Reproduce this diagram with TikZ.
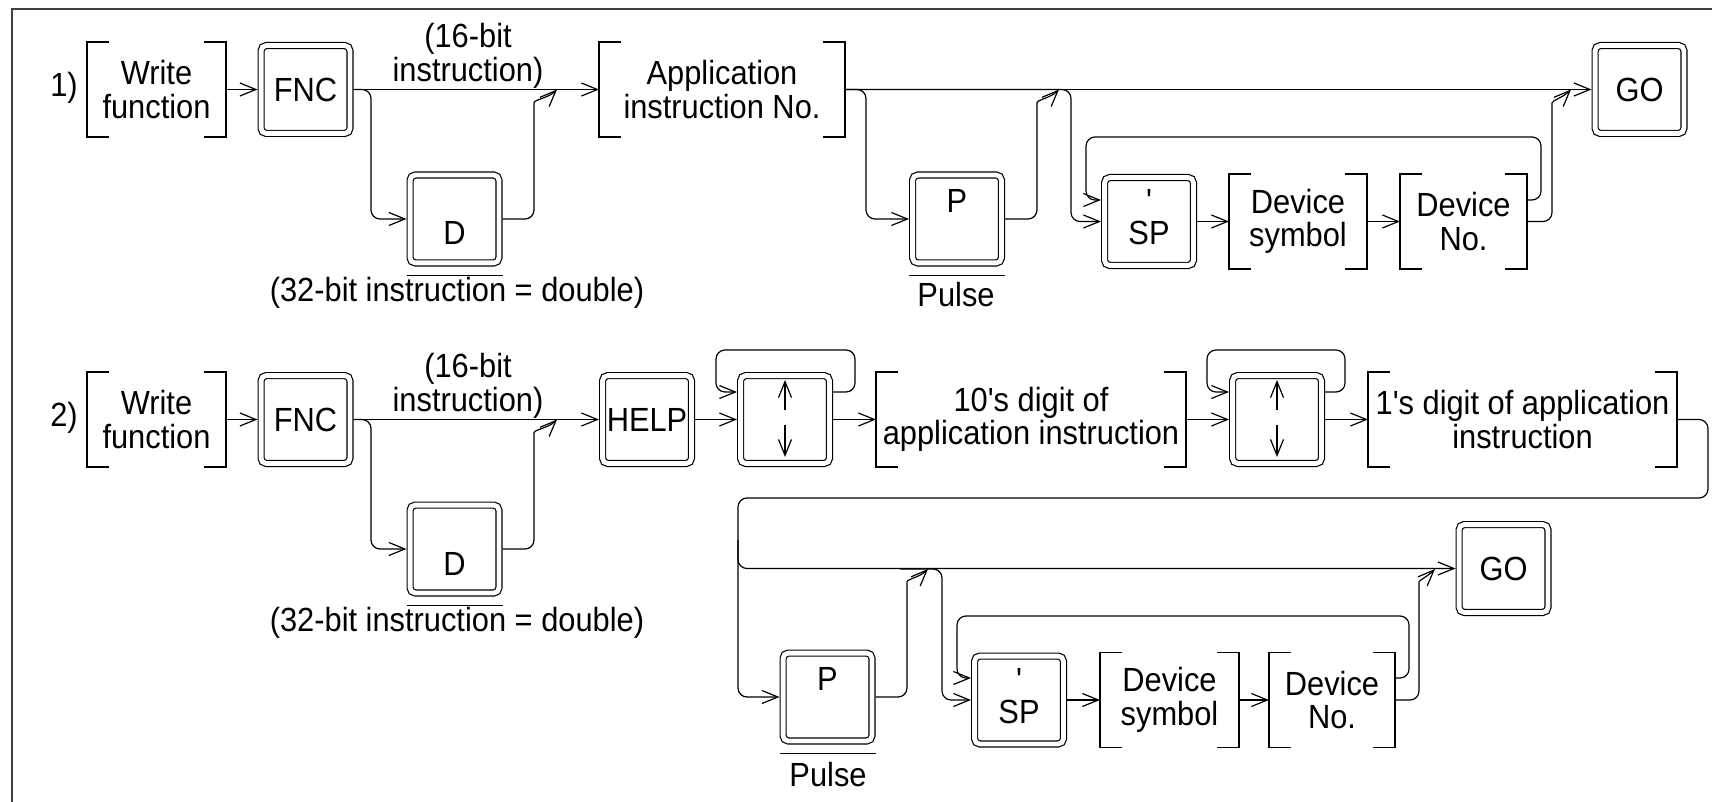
\documentclass[tikz,border=0pt]{standalone}
\usepackage{fontspec}
\setmainfont{Liberation Sans}[Ligatures=TeXOff, FakeStretch=0.92]
\usetikzlibrary{arrows.meta}

\tikzset{
  >={Straight Barb[length=8pt,width=6.5pt]},
  every node/.style={font=\fontsize{16.75}{16.75}\selectfont},
  keybox/.style={draw, double, double distance=2.4pt, rounded corners=2.5pt,
    minimum width=44.4pt, minimum height=43.9pt, inner sep=0pt, outer sep=1.8pt},
  bracketbox/.style={minimum height=47.5pt, inner sep=1pt, outer sep=0pt, align=center},
  conn/.style={->, rounded corners=4.5pt},
  lowlabel/.style={text height=26pt, text depth=0pt},
  highlabel/.style={text height=0pt, text depth=6.5pt},
  splabel/.style={text height=23.5pt, text depth=0pt},
}
% square brackets round a node
\newcommand{\brackets}[1]{%
  \draw ([xshift=11pt]#1.north west) -- (#1.north west) -- (#1.south west) -- ([xshift=11pt]#1.south west);
  \draw ([xshift=-11pt]#1.north east) -- (#1.north east) -- (#1.south east) -- ([xshift=-11pt]#1.south east);}

\begin{document}
\begin{tikzpicture}[x=0.5pt, y=-0.5pt, line width=0.6pt]
\useasboundingbox (0,0) rectangle (1712,802);
% frame
\draw [line width=0.8pt, black!75] (12,802) -- (12,9) -- (1712,9);

% 1)
\node (n1) at (64,88) {1)};
\node [bracketbox, minimum width=69.5pt] (wf1) at (156.5,89.5) {Write\\function};
\node [keybox] (fnc1) at (305.5,89.5) {FNC};
\node [keybox, lowlabel] (d1) at (454.5,219) {D};
\node [align=center] (t16a) at (468,56) {(16-bit\\instruction)};
\node (t32a) at (457,293) {(32-bit instruction = double)};
\node [bracketbox, minimum width=123pt] (ain) at (722,89.5) {Application\\instruction No.};
\node [keybox, highlabel] (p1) at (957,219) {P};
\node (pul1) at (956,295) {Pulse};
\node [keybox, splabel] (sp1) at (1149,221.5) {SP};
\node (q1) at ([yshift=10.25pt]sp1.center) {'};
\node [bracketbox, minimum width=69pt] (ds1) at (1298,221.5) {Device\\symbol};
\node [bracketbox, minimum width=63.5pt] (dn1) at (1463.5,221.5) {Device\\No.};
\node [keybox] (go1) at (1639.5,89.5) {GO};
% overlines
\draw ([yshift=-4.5pt]d1.south west) -- ([yshift=-4.5pt]d1.south east);
\draw ([yshift=-4.5pt]p1.south west) -- ([yshift=-4.5pt]p1.south east);
% connectors
\draw [->] (wf1.east) -- (fnc1.west);
\draw [->] (fnc1.east) -- (ain.west);
\draw [conn] (fnc1.east) -| (371,219) -- (d1.west);
\draw [conn] (d1.east) -| (534,112) to[out=90,in=225] (557,89.5);
\draw [->] (ain.east) -- (go1.west);
\draw [conn] (ain.east) -| (866,219) -- (p1.west);
\draw [conn] (p1.east) -| (1037,112) to[out=90,in=225] (1059,89.5);
\draw [conn] (ain.east) -| (1071,221.5) -- (sp1.west);
\draw [->] (sp1.east) -- (ds1.west);
\draw [->] (ds1.east) -- (dn1.west);
\draw [conn] ([yshift=10.75pt]dn1.east) -| (1541,137) -| (1086,200) -- ([yshift=10.75pt]sp1.west);
\draw [conn] (dn1.east) -| (1552,112) to[out=90,in=225] (1571,89.5);

% 2)
\node (n2) at (64,418) {2)};
\node [bracketbox, minimum width=69.5pt] (wf2) at (156.5,419.5) {Write\\function};
\node [keybox] (fnc2) at (305.5,419.5) {FNC};
\node [keybox, lowlabel] (d2) at (454.5,549) {D};
\node [align=center] (t16b) at (468,386) {(16-bit\\instruction)};
\node (t32b) at (457,623) {(32-bit instruction = double)};
\node [keybox] (help) at (647,419.5) {HELP};
\node [keybox] (ud1) at (785,419.5) {};
\node [bracketbox, minimum width=155pt] (dig10) at (1031,419.5) {10's digit of\\application instruction};
\node [keybox] (ud2) at (1277,419.5) {};
\node [bracketbox, minimum width=154.5pt] (dig1) at (1522.5,419.5) {1's digit of application\\instruction};
\node [keybox, highlabel] (p2) at (827.5,697) {P};
\node (pul2) at (828,775) {Pulse};
\node [keybox, splabel] (sp2) at (1019,700) {SP};
\node (q2) at ([yshift=10.25pt]sp2.center) {'};
\node [bracketbox, minimum width=69.5pt] (ds2) at (1169.5,700) {Device\\symbol};
\node [bracketbox, minimum width=63pt] (dn2) at (1332,700) {Device\\No.};
\node [keybox] (go2) at (1503.5,568.5) {GO};
% overlines
\draw ([yshift=-4.5pt]d2.south west) -- ([yshift=-4.5pt]d2.south east);
\draw ([yshift=-4.5pt]p2.south west) -- ([yshift=-4.5pt]p2.south east);
% up and down keys
\foreach \k in {ud1,ud2} {
  \draw [->] ([yshift=4.75pt]\k.center) -- ([yshift=19.75pt]\k.center);
  \draw [->] ([yshift=-2.75pt]\k.center) -- ([yshift=-18.75pt]\k.center);
}
% connectors
\draw [->] (wf2.east) -- (fnc2.west);
\draw [->] (fnc2.east) -- (help.west);
\draw [conn] (fnc2.east) -| (371,549) -- (d2.west);
\draw [conn] (d2.east) -| (534,442) to[out=90,in=225] (557,419.5);
\draw [->] (help.east) -- (ud1.west);
\draw [conn] ([yshift=13.75pt]ud1.east) -| (855,350) -| (716,392) -- ([yshift=13.75pt]ud1.west);
\draw [->] (ud1.east) -- (dig10.west);
\draw [->] (dig10.east) -- (ud2.west);
\draw [conn] ([yshift=13.75pt]ud2.east) -| (1345,350) -| (1207,392) -- ([yshift=13.75pt]ud2.west);
\draw [->] (ud2.east) -- (dig1.west);
\coordinate (v2) at (738,540);
\coordinate (h2) at (900,569);
\draw [conn] (dig1.east) -| (1708,498) -| (738,697) -- (p2.west);
\draw [conn] (v2) |- (go2.west);
\draw [conn] (h2) -| (942,700) -- (sp2.west);
\draw [conn] (p2.east) -| (907,591) to[out=90,in=225] (928,569);
\draw [->] (sp2.east) -- (ds2.west);
\draw [->] (ds2.east) -- (dn2.west);
\draw [conn] ([yshift=11pt]dn2.east) -| (1409,616) -| (957,678) -- ([yshift=11pt]sp2.west);
\draw [conn] (dn2.east) -| (1419,591) to[out=90,in=225] (1435,569);

% brackets
\foreach \n in {wf1,ain,ds1,dn1,wf2,dig10,dig1,ds2,dn2} {\brackets{\n}}
\end{tikzpicture}
\end{document}
